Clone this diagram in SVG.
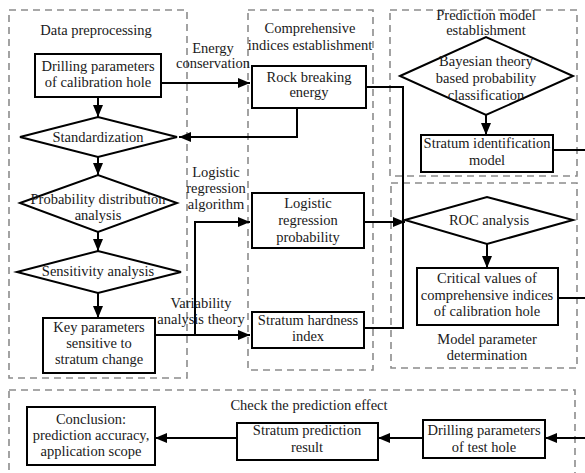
<svg xmlns="http://www.w3.org/2000/svg" width="585" height="473" viewBox="0 0 585 473">
<style>
.bg{fill:#fff}
.grp{fill:none;stroke:#8c8c8c;stroke-width:1.6;stroke-dasharray:7,5}
.box{fill:#fff;stroke:#000;stroke-width:2}
.dia{fill:#fff;stroke:#000;stroke-width:2}
.ln{fill:none;stroke:#000;stroke-width:2}
.arr{marker-end:url(#ah)}
text{font-family:"Liberation Serif","Times New Roman",serif;font-size:14.5px;fill:#1a1a1a;text-anchor:middle}
</style>
<defs>
<marker id="ah" markerUnits="userSpaceOnUse" markerWidth="12" markerHeight="10" refX="12" refY="5" orient="auto">
<path d="M0,0 L12,5 L0,10 z" fill="#000"/>
</marker>
</defs>
<rect class="bg" x="0" y="0" width="585" height="473"/>
<g id="groups">
<rect class="grp" x="9" y="10" width="178" height="368"/>
<rect class="grp" x="248" y="10" width="125" height="360"/>
<rect class="grp" x="390" y="10" width="187" height="166"/>
<rect class="grp" x="391" y="183" width="186" height="185"/>
<rect class="grp" x="9" y="390" width="566" height="110"/>
<text x="96" y="35">Data preprocessing</text>
<text x="310" y="33">Comprehensive</text>
<text x="310" y="50">indices establishment</text>
<text x="486" y="20">Prediction model</text>
<text x="486" y="35">establishment</text>
<text x="487" y="344">Model parameter</text>
<text x="487" y="360">determination</text>
<text x="309" y="410">Check the prediction effect</text>
</g>
<g id="connectors">
<path class="ln arr" d="M161,83 H250"/>
<path class="ln arr" d="M297,108 V137 H179"/>
<path class="ln arr" d="M98,97 V117"/>
<path class="ln arr" d="M98,157 V175"/>
<path class="ln arr" d="M98,232 V251"/>
<path class="ln arr" d="M98,293 V318"/>
<path class="ln arr" d="M155,335 H250"/>
<path class="ln arr" d="M195,335 V222 H250"/>
<path class="ln" d="M366,87 H403 V328 H364"/>
<path class="ln arr" d="M364,222 H405"/>
<path class="ln arr" d="M486,115 V135"/>
<path class="ln arr" d="M487,244 V268"/>
<path class="ln arr" d="M553,150 H600 V438 H545"/>
<path class="ln" d="M558,298 H600"/>
<path class="ln arr" d="M423,438 H378"/>
<path class="ln arr" d="M237,438 H155"/>
<text x="213" y="53">Energy</text>
<text x="213" y="68">conservation</text>
<text x="216" y="177">Logistic</text>
<text x="216" y="193">regression</text>
<text x="216" y="209">algorithm</text>
<text x="201" y="308">Variability</text>
<text x="201" y="324">analysis theory</text>
</g>
<g id="drilling-calibration">
<rect class="box" x="35" y="54" width="126" height="43"/>
<text x="98" y="71">Drilling parameters</text>
<text x="98" y="87">of calibration hole</text>
</g>
<g id="standardization">
<polygon class="dia" points="20,137 98,117 177,137 98,157"/>
<text x="98" y="142">Standardization</text>
</g>
<g id="probability-distribution">
<polygon class="dia" points="20,203 98,175 177,203 98,232"/>
<text x="98" y="204">Probability distribution</text>
<text x="98" y="220">analysis</text>
</g>
<g id="sensitivity">
<polygon class="dia" points="17,272 98,251 181,272 98,293"/>
<text x="98" y="276">Sensitivity analysis</text>
</g>
<g id="key-parameters">
<rect class="box" x="43" y="318" width="112" height="55"/>
<text x="99" y="332">Key parameters</text>
<text x="99" y="348">sensitive to</text>
<text x="99" y="364">stratum change</text>
</g>
<g id="rock-breaking">
<rect class="box" x="252" y="66" width="114" height="42"/>
<text x="309" y="82">Rock breaking</text>
<text x="309" y="97">energy</text>
</g>
<g id="logistic-probability">
<rect class="box" x="252" y="193" width="112" height="55"/>
<text x="308" y="208">Logistic</text>
<text x="308" y="225">regression</text>
<text x="308" y="242">probability</text>
</g>
<g id="stratum-hardness">
<rect class="box" x="252" y="312" width="112" height="36"/>
<text x="308" y="325">Stratum hardness</text>
<text x="308" y="341">index</text>
</g>
<g id="bayesian">
<polygon class="dia" points="400,76 486,37 573,76 486,115"/>
<text x="486" y="66">Bayesian theory</text>
<text x="486" y="83">based probability</text>
<text x="486" y="100">classification</text>
</g>
<g id="stratum-identification">
<rect class="box" x="421" y="135" width="132" height="37"/>
<text x="487" y="148">Stratum identification</text>
<text x="487" y="165">model</text>
</g>
<g id="roc">
<polygon class="dia" points="405,220 487,197 573,220 487,244"/>
<text x="489" y="225">ROC analysis</text>
</g>
<g id="critical-values">
<rect class="box" x="417" y="268" width="141" height="57"/>
<text x="487" y="283">Critical values of</text>
<text x="487" y="300">comprehensive indices</text>
<text x="487" y="316">of calibration hole</text>
</g>
<g id="conclusion">
<rect class="box" x="27" y="407" width="128" height="58"/>
<text x="91" y="424">Conclusion:</text>
<text x="91" y="440">prediction accuracy,</text>
<text x="91" y="456">application scope</text>
</g>
<g id="stratum-prediction">
<rect class="box" x="237" y="423" width="141" height="37"/>
<text x="307" y="435">Stratum prediction</text>
<text x="307" y="452">result</text>
</g>
<g id="drilling-test">
<rect class="box" x="423" y="420" width="122" height="38"/>
<text x="484" y="435">Drilling parameters</text>
<text x="484" y="452">of test hole</text>
</g>
</svg>
